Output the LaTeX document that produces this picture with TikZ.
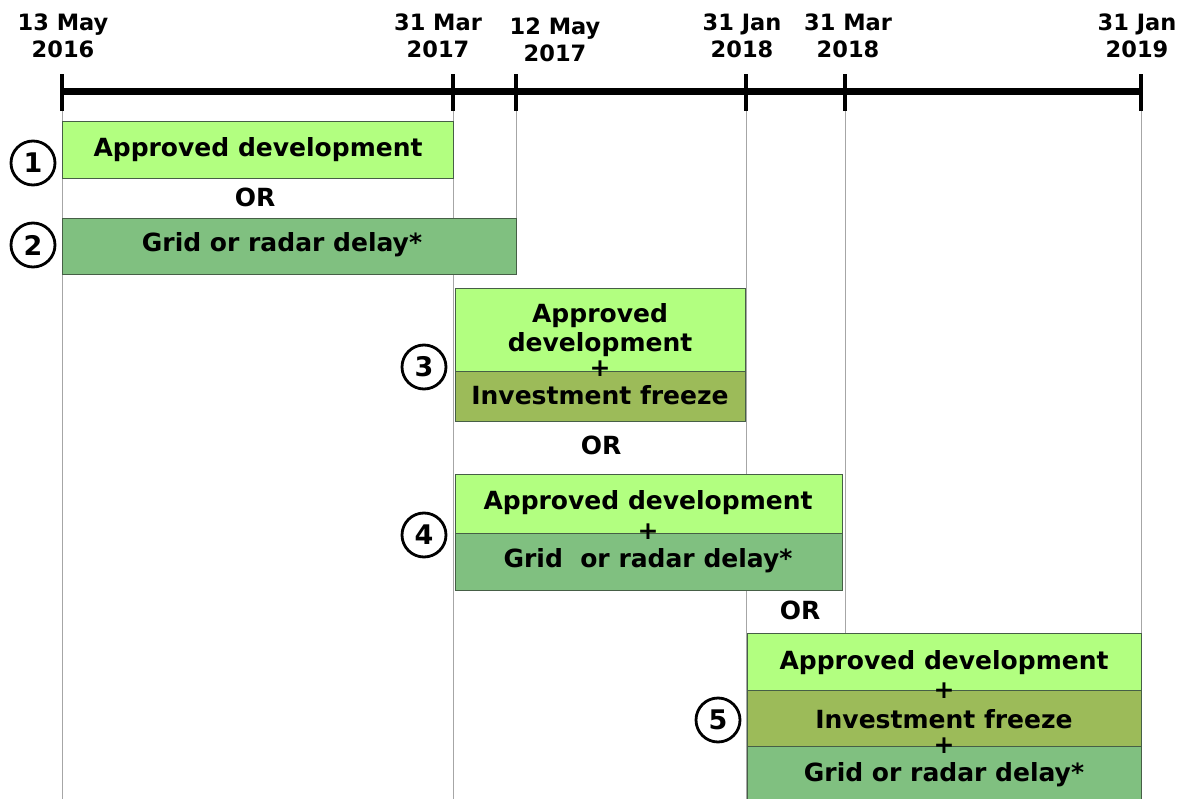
\documentclass[tikz,border=0pt]{standalone}
\usepackage{fontspec}
\setmainfont{DejaVu Sans}
\usetikzlibrary{positioning}

\definecolor{approvedgreen}{RGB}{178,255,128}
\definecolor{delaygreen}{RGB}{128,192,128}
\definecolor{freezeolive}{RGB}{156,187,89}
\definecolor{bandline}{RGB}{70,95,70}

\tikzset{
  datelabel/.style={font=\bfseries\fontsize{22.5}{27}\selectfont, align=center, inner sep=0pt},
  bandtext/.style={font=\bfseries\fontsize{25}{29}\selectfont, inner sep=0pt},
  band/.style={draw=bandline, line width=0.8pt, inner sep=0pt, outer sep=0pt, anchor=north west},
  optionnum/.style={circle, draw, line width=2.8pt, minimum size=44pt, inner sep=0pt,
    font=\bfseries\fontsize{27}{30}\selectfont},
  guide/.style={draw=gray!70, line width=0.7pt},
  tickmark/.style={line width=4pt}
}

\begin{document}
\begin{tikzpicture}[x=1pt, y=-1pt]
  \useasboundingbox (0,0) rectangle (1185,799);

  % time axis
  \coordinate (t1) at (62,92);
  \coordinate (t2) at (453,92);
  \coordinate (t3) at (516,92);
  \coordinate (t4) at (746,92);
  \coordinate (t5) at (845,92);
  \coordinate (t6) at (1141,92);

  % guide lines below the ticks
  \coordinate (g1) at (62,799);
  \coordinate (g2) at (453,799);
  \coordinate (g3) at (516,274);
  \coordinate (g4) at (746,799);
  \coordinate (g5) at (845,633);
  \coordinate (g6) at (1141,633);
  \foreach \i in {1,...,6}
    \draw[guide] (t\i) -- (g\i);

  \draw[line width=7pt] (t1) -- (t6);
  \foreach \i in {1,...,6}
    \draw[tickmark] ([yshift=-19pt]t\i) -- ([yshift=18pt]t\i);

  % dates
  \node[datelabel] (d1) at (63,36) {13 May\\2016};
  \node[datelabel] (d2) at (438,36) {31 Mar\\2017};
  \node[datelabel] (d3) at (555,40) {12 May\\2017};
  \node[datelabel] (d4) at (742,36) {31 Jan\\2018};
  \node[datelabel] (d5) at (848,36) {31 Mar\\2018};
  \node[datelabel] (d6) at (1137,36) {31 Jan\\2019};

  % option 1
  \node[band, fill=approvedgreen, minimum width=391pt, minimum height=57pt] (b1) at (62,121) {};
  \node[bandtext] (b1text) at (258,150) {Approved development};
  \node[optionnum] (n1) at (33,163) {1};

  \node[bandtext] (or1) at (255,197) {OR};

  % option 2
  \node[band, fill=delaygreen, minimum width=454pt, minimum height=56pt] (b2) at (62,218) {};
  \node[bandtext] (b2text) at (282,245) {Grid or radar delay*};
  \node[optionnum] (n2) at (33,245) {2};

  % option 3
  \node[band, fill=approvedgreen, minimum width=290pt, minimum height=83pt] (b3a) at (455,288) {};
  \node[band, fill=freezeolive, minimum width=290pt, minimum height=50pt] (b3b) at (455,371) {};
  \node[bandtext] (b3t1) at (600,316) {Approved};
  \node[bandtext] (b3t2) at (600,345) {development};
  \node[bandtext] (b3t3) at (600,369) {+};
  \node[bandtext] (b3t4) at (600,395) {Investment freeze};
  \node[optionnum] (n3) at (424,367) {3};

  \node[bandtext] (or2) at (601,445) {OR};

  % option 4
  \node[band, fill=approvedgreen, minimum width=387pt, minimum height=59pt] (b4a) at (455,474) {};
  \node[band, fill=delaygreen, minimum width=387pt, minimum height=57pt] (b4b) at (455,533) {};
  \node[bandtext] (b4t1) at (648,503) {Approved development};
  \node[bandtext] (b4t2) at (648,532) {+};
  \node[bandtext] (b4t3) at (648,561) {Grid\ \ or radar delay*};
  \node[optionnum] (n4) at (424,535) {4};

  \node[bandtext] (or3) at (800,610) {OR};

  % option 5
  \node[band, fill=approvedgreen, minimum width=394pt, minimum height=57pt] (b5a) at (747,633) {};
  \node[band, fill=freezeolive, minimum width=394pt, minimum height=56pt] (b5b) at (747,690) {};
  \node[band, fill=delaygreen, minimum width=394pt, minimum height=60pt] (b5c) at (747,746) {};
  \node[bandtext] (b5t1) at (944,663) {Approved development};
  \node[bandtext] (b5t2) at (944,691) {+};
  \node[bandtext] (b5t3) at (944,719) {Investment freeze};
  \node[bandtext] (b5t4) at (944,746) {+};
  \node[bandtext] (b5t5) at (944,775) {Grid or radar delay*};
  \node[optionnum] (n5) at (718,720) {5};
\end{tikzpicture}
\end{document}
